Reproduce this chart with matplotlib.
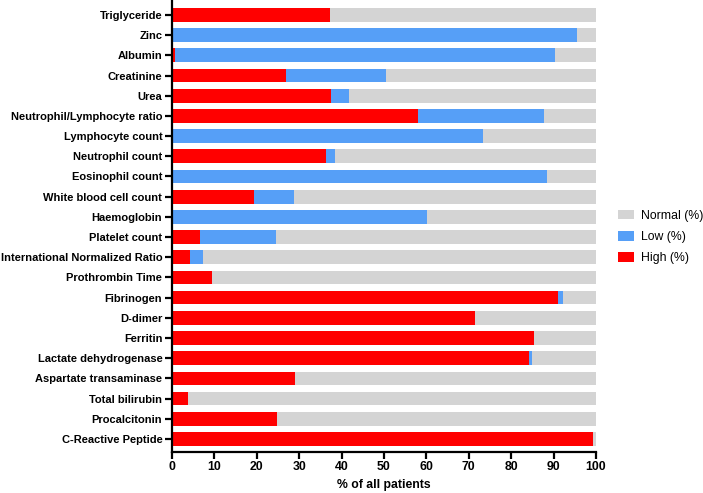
import numpy as np
import matplotlib.pyplot as plt

plt.rcParams['font.family'] = ['Liberation Sans', 'DejaVu Sans']

# top to bottom as in the chart
tests = ['Triglyceride', 'Zinc', 'Albumin', 'Creatinine', 'Urea',
         'Neutrophil/Lymphocyte ratio', 'Lymphocyte count', 'Neutrophil count',
         'Eosinophil count', 'White blood cell count', 'Haemoglobin',
         'Platelet count', 'International Normalized Ratio', 'Prothrombin Time',
         'Fibrinogen', 'D-dimer', 'Ferritin', 'Lactate dehydrogenase',
         'Aspartate transaminase', 'Total bilirubin', 'Procalcitonin',
         'C-Reactive Peptide']
high = [37.3, 0.0, 0.8, 26.8, 37.4, 58.0, 0.0, 36.3, 0.0, 19.4, 0.0,
        6.5, 4.3, 9.4, 91.1, 71.5, 85.3, 84.1, 28.9, 3.7, 24.8, 99.3]
low = [0.0, 95.6, 89.5, 23.6, 4.4, 29.7, 73.3, 2.2, 88.4, 9.4, 60.1,
       18.0, 3.0, 0.0, 1.0, 0.0, 0.0, 0.8, 0.0, 0.0, 0.0, 0.0]

high = np.array(high)
low = np.array(low)
normal = 100 - high - low
y = np.arange(len(tests))[::-1]

fig = plt.figure(figsize=(7.03, 4.93), dpi=100)
ax = fig.add_axes([172/703, (493-451.7)/493, 424/703, 451.7/493])

red = '#ff0000'
blue = '#569ff7'
grey = '#d4d4d4'
h = 0.68
ax.barh(y, normal, left=high+low, height=h, color=grey, label='Normal (%)')
ax.barh(y, low, left=high, height=h, color=blue, label='Low (%)')
ax.barh(y, high, height=h, color=red, label='High (%)')

ax.set_xlim(0, 100)
ax.set_ylim(-0.63, 21.74)
ax.set_xticks(np.arange(0, 101, 10))
ax.set_yticks(y)
ax.set_yticklabels(tests, fontweight='bold', fontsize=8.0)
for t in ax.get_xticklabels():
    t.set_fontweight('bold')
    t.set_fontsize(8.8)
ax.set_xlabel('% of all patients', fontweight='bold', fontsize=8.8, labelpad=4)

for s in ['top', 'right']:
    ax.spines[s].set_visible(False)
for s in ['left', 'bottom']:
    ax.spines[s].set_linewidth(1.6)
ax.tick_params(axis='both', width=1.6, length=5, pad=2)

ax.legend(loc='center left', bbox_to_anchor=(1.04, 0.475), frameon=False,
          borderaxespad=0, fontsize=8.8, handlelength=1.3, handleheight=0.8,
          labelspacing=0.75, handletextpad=0.6)

fig.savefig('out.png', dpi=100)
